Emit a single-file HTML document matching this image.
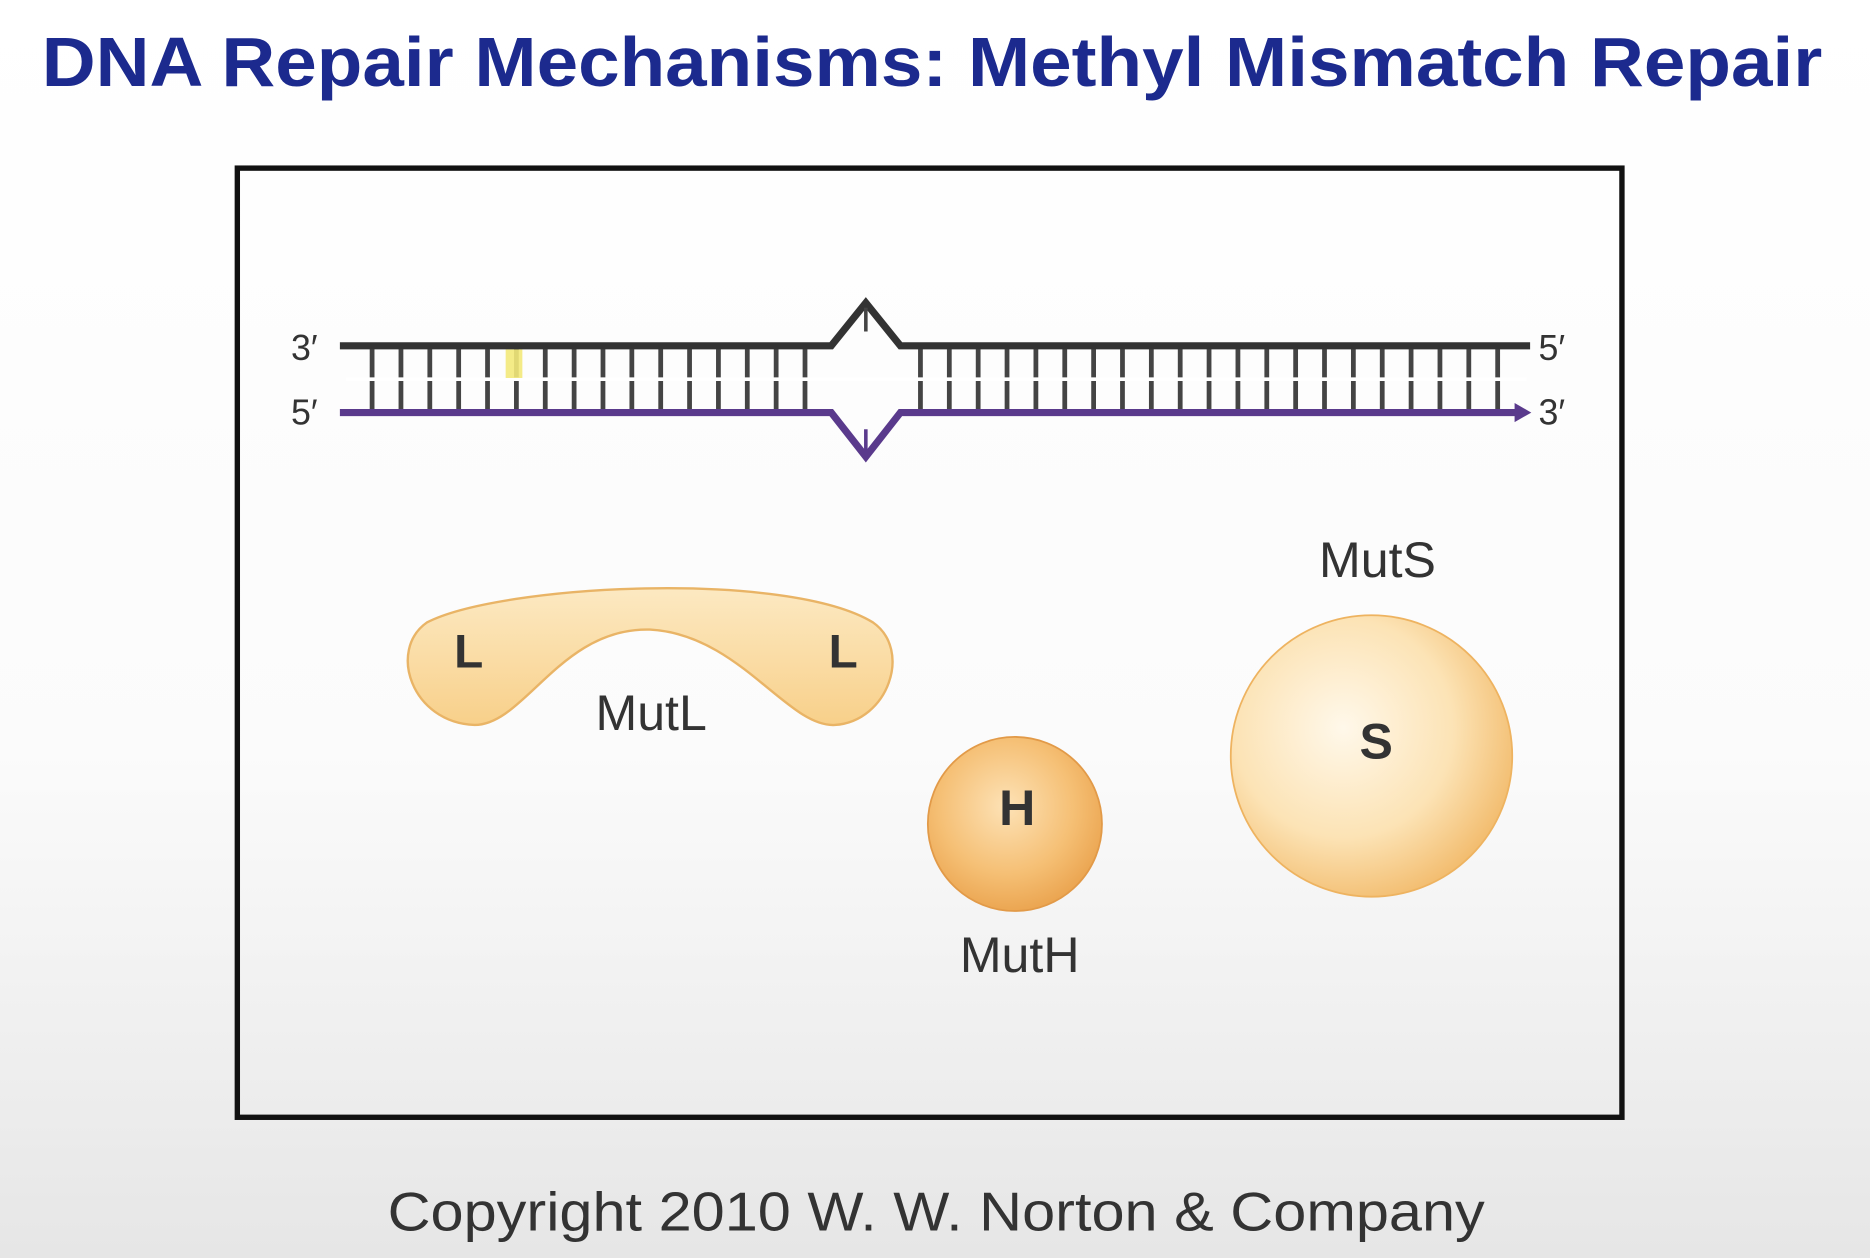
<!DOCTYPE html>
<html><head><meta charset="utf-8"><style>
html,body{margin:0;padding:0;width:1870px;height:1258px;overflow:hidden;background:#fff}
svg{display:block}
text{font-family:"Liberation Sans",sans-serif}
</style></head><body>
<svg width="1870" height="1258" viewBox="0 0 1568 1055" preserveAspectRatio="none">
<defs>
<linearGradient id="bg" x1="0" y1="0" x2="0" y2="1">
<stop offset="0" stop-color="#ffffff"/><stop offset="0.6" stop-color="#fbfbfb"/><stop offset="1" stop-color="#e6e6e6"/></linearGradient>
<radialGradient id="gS" cx="0.4" cy="0.4" r="0.65"><stop offset="0" stop-color="#fff8ea"/><stop offset="0.6" stop-color="#fce3b5"/><stop offset="1" stop-color="#f2bb6c"/></radialGradient>
<radialGradient id="gH" cx="0.45" cy="0.4" r="0.65"><stop offset="0" stop-color="#fde2b6"/><stop offset="0.6" stop-color="#f5bf74"/><stop offset="1" stop-color="#e9a04a"/></radialGradient>
<linearGradient id="gL" x1="0" y1="0" x2="0" y2="1"><stop offset="0" stop-color="#fce9c2"/><stop offset="1" stop-color="#f8d08a"/></linearGradient>
</defs>
<rect x="0" y="0" width="1568" height="1055" fill="url(#bg)"/>
<text x="35" y="72" font-size="58" font-weight="bold" fill="#1c2a8e" textLength="1493" lengthAdjust="spacingAndGlyphs">DNA Repair Mechanisms: Methyl Mismatch Repair</text>
<rect x="199" y="141" width="1161" height="796" fill="none" stroke="#111" stroke-width="4.5"/>
<g>
<g id="rungs" stroke="#444" stroke-width="4"></g>
<line x1="290" y1="318" x2="1280" y2="318" stroke="#fff" stroke-width="3"/>
<rect x="424" y="293" width="14" height="24" fill="#f3e97a" opacity="0.9"/>
<polyline points="285,290 697,290 726,254 755,290 1283,290" fill="none" stroke="#333" stroke-width="6"/>
<polyline points="285,346 697,346 726,383 755,346 1272,346" fill="none" stroke="#5a3a8c" stroke-width="6"/>
<polygon points="1270,338 1284,346 1270,354" fill="#5a3a8c"/>
<line x1="726" y1="258" x2="726" y2="278" stroke="#444" stroke-width="3"/>
<line x1="726" y1="360" x2="726" y2="380" stroke="#5a3a8c" stroke-width="3"/>
</g>
<text x="244" y="302" font-size="30" fill="#333">3′</text>
<text x="244" y="356" font-size="30" fill="#333">5′</text>
<text x="1290" y="302" font-size="30" fill="#333">5′</text>
<text x="1290" y="356" font-size="30" fill="#333">3′</text>
<path d="M358,522 C420,490 660,478 732,522 C765,545 745,605 700,608 C660,610 620,532 545,528 C470,526 440,608 398,608 C345,606 325,545 358,522 Z" fill="url(#gL)" stroke="#e9b466" stroke-width="2"/>
<text x="393" y="560" font-size="40" font-weight="bold" fill="#333" text-anchor="middle">L</text>
<text x="707" y="560" font-size="40" font-weight="bold" fill="#333" text-anchor="middle">L</text>
<text x="546" y="612" font-size="42" fill="#333" text-anchor="middle">MutL</text>
<circle cx="851" cy="691" r="73" fill="url(#gH)" stroke="#e29a48" stroke-width="1.5"/>
<text x="853" y="692" font-size="42" font-weight="bold" fill="#333" text-anchor="middle">H</text>
<text x="855" y="815" font-size="42" fill="#333" text-anchor="middle">MutH</text>
<circle cx="1150" cy="634" r="118" fill="url(#gS)" stroke="#eeb360" stroke-width="1.5"/>
<text x="1154" y="636" font-size="42" font-weight="bold" fill="#333" text-anchor="middle">S</text>
<text x="1155" y="484" font-size="42" fill="#333" text-anchor="middle">MutS</text>
<text x="785" y="1032" font-size="46" fill="#333" text-anchor="middle" textLength="920" lengthAdjust="spacingAndGlyphs">Copyright 2010  W. W. Norton &amp; Company</text>
</svg>
<script>
const g=document.getElementById('rungs');
for(let x=312;x<1280;x+=24.2){
 if(x>692&&x<760) continue;
 const l=document.createElementNS('http://www.w3.org/2000/svg','line');
 l.setAttribute('x1',x);l.setAttribute('x2',x);l.setAttribute('y1',292);l.setAttribute('y2',344);
 
 
 g.appendChild(l);
}
</script>
</body></html>
